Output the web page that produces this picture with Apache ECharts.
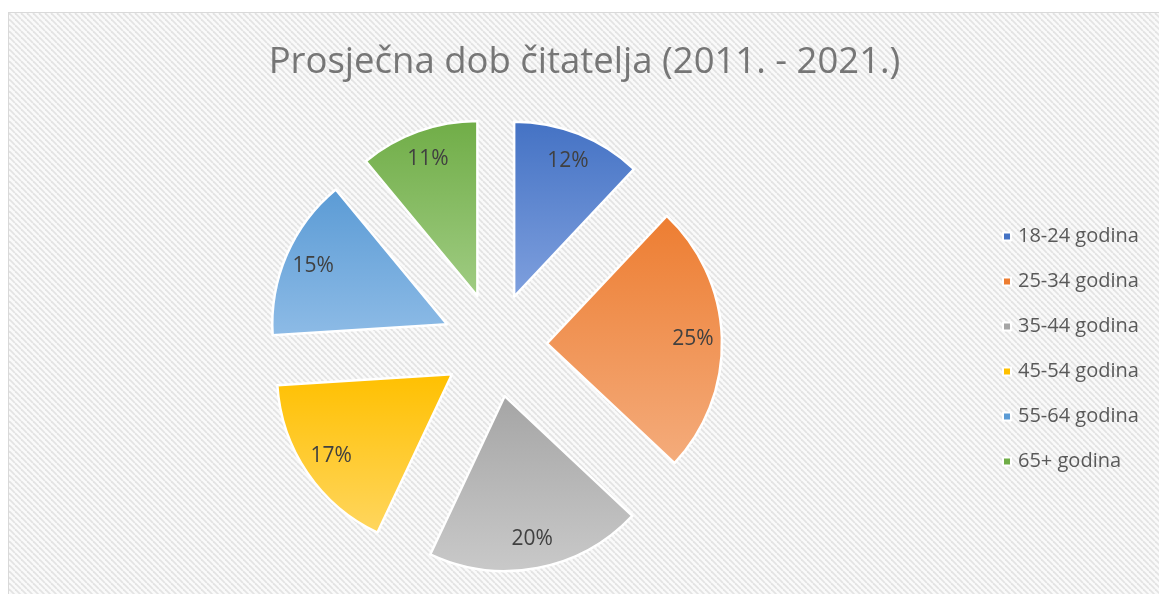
<!DOCTYPE html>
<html>
<head>
<meta charset="utf-8">
<script src="https://cdn.jsdelivr.net/npm/echarts@6/dist/echarts.min.js"></script>
<style>
  html, body { margin: 0; padding: 0; background: #fff; overflow: hidden; }
  #chart-container {
    position: absolute; left: 8px; top: 12px;
    width: 1151px; height: 582px;
    border-left: 1px solid #d9d9d9; border-top: 1px solid #d9d9d9;
  }
</style>
</head>
<body>
<div id="chart-container"></div>
<script>
// chart data
const titleText = 'Prosječna dob čitatelja (2011. - 2021.)';
const ageGroups = ['18-24 godina', '25-34 godina', '35-44 godina', '45-54 godina', '55-64 godina', '65+ godina'];
const shares = [12, 25, 20, 17, 15, 11];
const baseColors = ['#4472C4', '#ED7D31', '#A5A5A5', '#FFC000', '#5B9BD5', '#70AD47'];
const lightColors = ['#7FA0DE', '#F4AC7C', '#C9C9C9', '#FFD65F', '#8DBBE6', '#A0CC83'];

// diagonal hatch for the background
function makeHatch() {
  const s = 6;
  const c = document.createElement('canvas');
  c.width = s; c.height = s;
  const ctx = c.getContext('2d');
  ctx.fillStyle = '#fafafa';
  ctx.fillRect(0, 0, s, s);
  ctx.strokeStyle = '#e3e3e3';
  ctx.lineWidth = 1.8;
  [-s, 0, s].forEach(k => {
    ctx.beginPath();
    ctx.moveTo(k, 0);
    ctx.lineTo(k + s, s);
    ctx.stroke();
  });
  return c;
}

const chartContainer = document.getElementById('chart-container');
const myChart = echarts.init(chartContainer, null, { renderer: 'canvas' });

const sliceData = ageGroups.map((name, i) => ({
  name: name,
  value: shares[i],
  selected: true,
  itemStyle: {
    color: new echarts.graphic.LinearGradient(0, 0, 0, 1, [
      { offset: 0, color: baseColors[i] },
      { offset: 1, color: lightColors[i] }
    ])
  }
}));

const labelData = ageGroups.map((name, i) => ({
  name: name,
  value: shares[i],
  selected: true
}));

const center = [486, 332];

let option = {
  backgroundColor: { image: makeHatch(), repeat: 'repeat' },
  animation: false,
  title: {
    text: titleText,
    left: 'center',
    top: 26,
    textStyle: {
      fontFamily: 'Open Sans',
      fontSize: 36.5,
      fontWeight: 'normal',
      color: '#767676'
    }
  },
  legend: {
    orient: 'vertical',
    left: 988,
    top: 208,
    itemWidth: 8,
    itemHeight: 8,
    itemGap: 24,
    icon: 'rect',
    data: ageGroups.map((n, i) => ({ name: n, itemStyle: { color: baseColors[i] } })),
    textStyle: {
      fontFamily: 'Open Sans',
      fontSize: 20,
      lineHeight: 21,
      color: '#595959',
      padding: [0, 0, 0, 2]
    }
  },
  series: [
    {
      name: 'Dob',
      type: 'pie',
      center: center,
      radius: 175,
      startAngle: 90,
      clockwise: true,
      selectedMode: 'multiple',
      selectedOffset: 52,
      emphasis: { scale: false },
      itemStyle: { borderColor: '#ffffff', borderWidth: 2.5 },
      label: { show: false },
      labelLine: { show: false },
      data: sliceData
    },
    {
      // transparent ring that only carries the percentage labels
      name: 'Postotak',
      type: 'pie',
      silent: true,
      center: center,
      radius: [111, 175],
      startAngle: 90,
      clockwise: true,
      selectedMode: 'multiple',
      selectedOffset: 52,
      emphasis: { scale: false },
      itemStyle: { color: 'rgba(0,0,0,0)', borderWidth: 0 },
      label: {
        show: true,
        position: 'inside',
        formatter: '{d}%',
        fontFamily: 'Open Sans',
        fontSize: 21,
        color: '#404040'
      },
      labelLine: { show: false },
      data: labelData
    }
  ]
};

myChart.setOption(option);
window.addEventListener('resize', myChart.resize);
</script>
</body>
</html>
